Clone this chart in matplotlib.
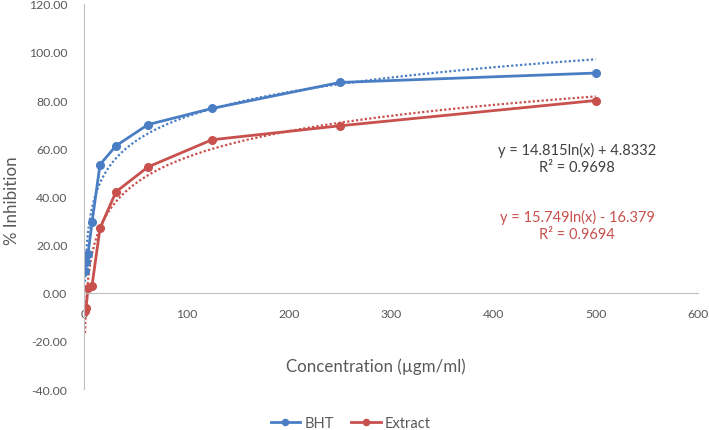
import numpy as np
import matplotlib.pyplot as plt

plt.rcParams['font.family'] = ['Lato', 'DejaVu Sans']

# data
conc = [0.977, 1.953, 3.906, 7.8125, 15.625, 31.25, 62.5, 125, 250, 500]
bht = [9.1, 12.6, 16.0, 29.2, 53.2, 61.0, 69.8, 76.5, 87.3, 91.2]
extract = [-7.8, -6.5, 1.9, 2.9, 26.8, 41.9, 52.2, 63.5, 69.3, 79.8]

# log trendline coefficients shown on the chart
bht_a, bht_b = 14.815, 4.8332
ext_a, ext_b = 15.749, -16.379

blue = '#4A7EC4'
red = '#C8504D'
grey = '#595959'

fig = plt.figure(figsize=(7.09, 4.31), dpi=100)
ax = fig.add_axes([0.1185, 0.0951, 0.866, 0.894])

xs = np.linspace(conc[0], conc[-1], 800)
ax.plot(xs, bht_a * np.log(xs) + bht_b, color=blue, lw=1.6, ls=(0, (1, 1)))
ax.plot(xs, ext_a * np.log(xs) + ext_b, color=red, lw=1.6, ls=(0, (1, 1)))

ax.plot(conc, bht, color=blue, lw=2, marker='o', ms=5.5, label='BHT')
ax.plot(conc, extract, color=red, lw=2, marker='o', ms=5.5, label='Extract')

ax.set_xlim(0, 600)
ax.set_ylim(-40, 120)
ax.set_xticks(range(0, 601, 100))
ax.set_yticks(range(-40, 121, 20))
ax.set_yticklabels(['%.2f' % v for v in range(-40, 121, 20)])

for s in ['top', 'right']:
    ax.spines[s].set_visible(False)
ax.spines['bottom'].set_position(('data', 0))
ax.spines['bottom'].set_color('#BFBFBF')
ax.spines['left'].set_color('#BFBFBF')
ax.tick_params(length=0, colors=grey, labelsize=8.8)
ax.tick_params(axis='y', pad=12)
ax.tick_params(axis='x', pad=11)

ax.text(482, 55.9, 'y = 14.815ln(x) + 4.8332\nR² = 0.9698', color='#404040',
        fontsize=10.5, ha='center', va='center', linespacing=1.3)
ax.text(482, 28.2, 'y = 15.749ln(x) - 16.379\nR² = 0.9694', color=red,
        fontsize=10.5, ha='center', va='center', linespacing=1.3)

fig.text(0.017, 0.535, '% Inhibition', rotation=90, color=grey, fontsize=12.2,
         ha='center', va='center')
fig.text(0.53, 0.148, 'Concentration (µgm/ml)', color=grey, fontsize=12.2,
         ha='center', va='center')

fig.legend(loc='center', bbox_to_anchor=(0.495, 0.017), ncol=2, frameon=False,
           fontsize=10.5, labelcolor=grey, handlelength=2, columnspacing=1.2,
           handletextpad=0.3, markerscale=0.8)

fig.savefig('out.png', dpi=100)
